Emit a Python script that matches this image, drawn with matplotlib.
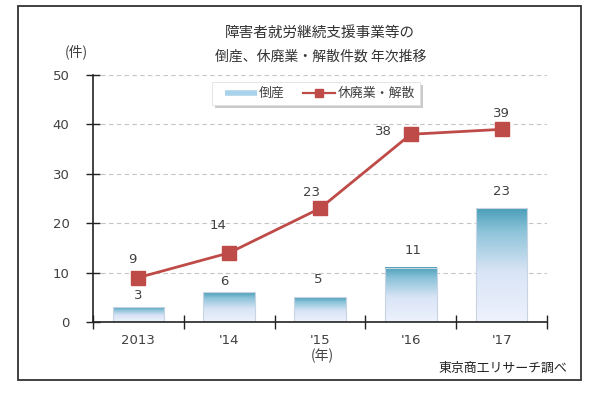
import matplotlib
matplotlib.use("Agg")
import matplotlib.pyplot as plt
import numpy as np
from matplotlib.patches import Rectangle
from matplotlib.lines import Line2D
from matplotlib.colors import LinearSegmentedColormap

plt.rcParams['font.family'] = ['Noto Sans CJK JP', 'DejaVu Sans']

categories = ["2013", "'14", "'15", "'16", "'17"]
bankrupt = [3, 6, 5, 11, 23]
closures = [9, 14, 23, 38, 39]
yticks = [0, 10, 20, 30, 40, 50]

# label offsets in pixels (dx, dy up)
closure_lbl_off = [(-6, 18), (-11, 27), (-9, 16), (-27, 3), (0, 16)]
bar_lbl_off = [(0, 12), (-5, 11), (-2, 18), (2, 17), (0, 17)]

fig = plt.figure(figsize=(5.99, 3.93), dpi=100)
W, H = 599, 393
def fx(x): return x / W
def fy(y): return 1 - y / H

numfont = dict(family='DejaVu Sans', fontsize=9.5)

# outer frame
fig.patches.append(Rectangle((fx(18), fy(380)), fx(581) - fx(18), fy(6) - fy(380),
                             transform=fig.transFigure, fill=False, edgecolor='#333333', lw=1.3))

ax = fig.add_axes([fx(93), fy(322), fx(547) - fx(93), fy(75) - fy(322)])
x = np.arange(len(categories))

tcol = '#404040'
ax.set_yticks(yticks)
ax.set_yticklabels([str(v) for v in yticks], color=tcol, **numfont)
ax.tick_params(axis='y', direction='inout', length=10, width=1, pad=12, colors='#222222', labelcolor=tcol)
ax.set_xticks(np.arange(len(categories) + 1) - 0.5)
ax.set_xticklabels([])
ax.set_xticks(x, minor=True)
ax.set_xticklabels(categories, minor=True, color=tcol, **numfont)
ax.tick_params(axis='x', which='major', direction='inout', length=10, width=1, colors='#222222')
ax.tick_params(axis='x', which='minor', length=0, pad=9, labelcolor=tcol)
for s in ['top', 'right']:
    ax.spines[s].set_visible(False)
for s in ['left', 'bottom']:
    ax.spines[s].set_color('#222222')
    ax.spines[s].set_linewidth(1.2)
for v in yticks[1:]:
    ax.axhline(v, color='#c4c4c4', lw=0.8, ls=(0, (4, 3)), zorder=0)

# gradient bars
cmap = LinearSegmentedColormap.from_list('g', [(0, '#eef2fd'), (0.45, '#d8e4f5'),
                                               (0.8, '#8cc3d9'), (1, '#4a9fb8')])
grad = np.linspace(0, 1, 256).reshape(-1, 1)
bw = 0.57
bars = ax.bar(x, bankrupt, width=bw, color='none', edgecolor='none', zorder=2)
for b in bars:
    x0, y0, w, h = b.get_x(), b.get_y(), b.get_width(), b.get_height()
    ax.imshow(grad, cmap=cmap, aspect='auto', origin='lower',
              extent=[x0, x0 + w, y0, y0 + h], zorder=2)
    ax.add_patch(Rectangle((x0, y0), w, h, fill=False, edgecolor='#c8d4e2', lw=0.8, zorder=2.1))
ax.set_xlim(-0.5, len(categories) - 0.5)
ax.set_ylim(0, 50)
for xi, v, (dx, dy) in zip(x, bankrupt, bar_lbl_off):
    ax.annotate(str(v), (xi, v), xytext=(dx * 0.72, dy * 0.72), textcoords='offset points',
                ha='center', va='center', color=tcol, **numfont)

lc = '#be4b48'
ax.plot(x, closures, color=lc, lw=2, marker='s', markersize=10, markerfacecolor=lc,
        markeredgecolor=lc, zorder=3)
for xi, v, (dx, dy) in zip(x, closures, closure_lbl_off):
    ax.annotate(str(v), (xi, v), xytext=(dx * 0.72, dy * 0.72), textcoords='offset points',
                ha='center', va='center', color=tcol, **numfont)

# legend
fig.patches.append(Rectangle((fx(215), fy(108)), fx(423) - fx(215), fy(85) - fy(108),
                             transform=fig.transFigure, facecolor='#a0a0a0', edgecolor='none',
                             alpha=0.55, zorder=4))
fig.patches.append(Rectangle((fx(212), fy(105)), fx(420) - fx(212), fy(82) - fy(105),
                             transform=fig.transFigure, facecolor='white', edgecolor='#e0e0e0',
                             lw=0.6, zorder=5))
fig.lines.append(Line2D([fx(225), fx(257)], [fy(93), fy(93)], transform=fig.transFigure,
                        color='#a9d3ea', lw=4, solid_capstyle='butt', zorder=6))
fig.text(fx(259), fy(93), '倒産', ha='left', va='center', fontsize=9.3, color=tcol, zorder=6)
fig.lines.append(Line2D([fx(303), fx(335)], [fy(93), fy(93)], transform=fig.transFigure,
                        color=lc, lw=1.6, zorder=6))
fig.lines.append(Line2D([fx(319)], [fy(93)], transform=fig.transFigure, color=lc,
                        marker='s', markersize=6, lw=0, zorder=7))
fig.text(fx(338), fy(93), '休廃業・解散', ha='left', va='center', fontsize=9.3, color=tcol, zorder=6)

fig.text(fx(320), fy(33), '障害者就労継続支援事業等の', ha='center', va='center', fontsize=10.5, color='#333333')
fig.text(fx(321), fy(57), '倒産、休廃業・解散件数 年次推移', ha='center', va='center', fontsize=10, color='#333333')
fig.text(fx(76), fy(52), '(件)', ha='center', va='center', fontsize=10, color=tcol)
fig.text(fx(322), fy(356), '(年)', ha='center', va='center', fontsize=10, color=tcol)
fig.text(fx(567), fy(368), '東京商工リサーチ調べ', ha='right', va='center', fontsize=9.3, color='#222222')

fig.savefig('out.png', dpi=100)
